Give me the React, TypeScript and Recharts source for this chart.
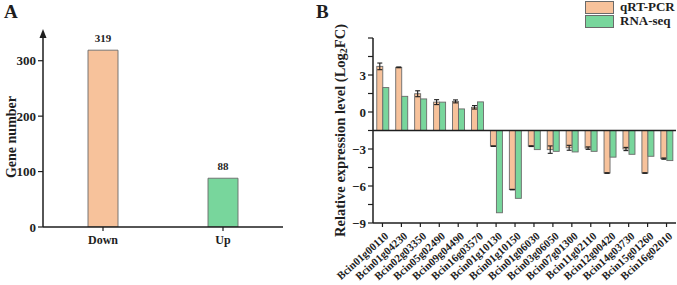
import React from "react";
import { BarChart, Bar, XAxis, YAxis, Cell, LabelList, ReferenceLine, Legend } from "recharts";

// Panel A: number of differentially expressed genes
const groupLabels = ["Down", "Up"];
const groupCounts = [319, 88];
const groupTicks = [0, 100, 200, 300];

// Panel B: qRT-PCR vs RNA-seq (log2 fold change)
const genes = [
  "Bcin01g00110", "Bcin01g04230", "Bcin02g03350", "Bcin05g02490",
  "Bcin09g04490", "Bcin16g03570", "Bcin01g10130", "Bcin01g10150",
  "Bcin01g06030", "Bcin03g06050", "Bcin07g01300", "Bcin11g02110",
  "Bcin12g00420", "Bcin14g03730", "Bcin15g01260", "Bcin16g02010",
];
const qrtValues = [3.7, 3.62, 1.48, 0.8, 0.86, 0.38, -2.77, -6.29, -2.77, -3.05, -2.9, -2.93, -4.95, -3.0, -4.95, -3.78];
const qrtErrors = [0.27, 0.03, 0.24, 0.2, 0.12, 0.14, 0.02, 0.02, 0.03, 0.3, 0.2, 0.1, 0.02, 0.13, 0.02, 0.05];
const rnaValues = [1.98, 1.27, 1.06, 0.8, 0.25, 0.82, -8.17, -7.0, -3.05, -3.19, -3.24, -3.19, -3.66, -3.43, -3.59, -3.94];
const expressionTicks = [-9, -7.5, -6, -4.5, -3, -1.5, 0, 1.5, 3, 4.5, 6];
const labelledTicks = [-9, -6, -3, 0, 3];
// the x axis crosses the y axis here, bars grow from it
const BASELINE = -1.5;

const FONT = '"Liberation Serif", "Times New Roman", serif';
const INK = "#1e1e1e";
const ORANGE = "#F7C29B";
const GREEN = "#78D69C";
const OUTLINE = "#6a6a6a";

const countRows = groupLabels.map((name, i) => ({ name, count: groupCounts[i] }));
const geneRows = genes.map((name, i) => ({
  name,
  qrt: [BASELINE, qrtValues[i]],
  rna: [BASELINE, rnaValues[i]],
  value: qrtValues[i],
  err: qrtErrors[i],
}));

const tickFont = { fontFamily: FONT, fontWeight: 700, fill: INK };

function GeneNumberLabel(props: any) {
  const { x, y, width, height } = props.viewBox;
  const axisX = x + width;
  const cy = y + height / 2 + 7;
  return (
    <g>
      <polygon points={`${axisX},${y - 4} ${axisX - 3.5},${y + 5} ${axisX + 3.5},${y + 5}`} fill={INK} />
      <text
        x={11}
        y={cy}
        transform={`rotate(-90, 11, ${cy})`}
        textAnchor="middle"
        dominantBaseline="central"
        style={{ ...tickFont, fontSize: 14 }}
      >
        Gene number
      </text>
    </g>
  );
}

function ExpressionLabel(props: any) {
  const { y, height } = props.viewBox;
  const cy = y + height / 2;
  const cx = 40;
  return (
    <text
      x={cx}
      y={cy}
      transform={`rotate(-90, ${cx}, ${cy})`}
      textAnchor="middle"
      dominantBaseline="central"
      style={{ ...tickFont, fontSize: 14.5 }}
    >
      Relative expression level (Log
      <tspan dy={3} fontSize={10}>2</tspan>
      <tspan dy={-3}>FC)</tspan>
    </text>
  );
}

function GeneTick(props: any) {
  const { x, y, payload } = props;
  return (
    <text
      x={x + 4}
      y={y + 5}
      transform={`rotate(-42, ${x + 4}, ${y + 5})`}
      textAnchor="end"
      dominantBaseline="central"
      style={{ ...tickFont, fontSize: 11 }}
    >
      {payload.value}
    </text>
  );
}

// bar rectangle plus its error bar at the value end (scaled from the bar's own pixel height)
function BarWithError(props: any) {
  const { x, y, width, height, fill, payload } = props;
  const top = height >= 0 ? y : y + height;
  const h = Math.abs(height);
  const rect = <rect x={x} y={top} width={width} height={h} fill={fill} stroke={OUTLINE} strokeWidth={0.9} />;
  if (!payload || payload.err == null) return rect;
  const v = payload.value;
  const ppu = h / Math.abs(v - BASELINE);
  const endY = v > BASELINE ? top : top + h;
  const e = payload.err * ppu;
  const cx = x + width / 2;
  return (
    <g>
      {rect}
      <line x1={cx} x2={cx} y1={endY - e} y2={endY + e} stroke={INK} strokeWidth={1.1} />
      <line x1={cx - 2.5} x2={cx + 2.5} y1={endY - e} y2={endY - e} stroke={INK} strokeWidth={1.1} />
      <line x1={cx - 2.5} x2={cx + 2.5} y1={endY + e} y2={endY + e} stroke={INK} strokeWidth={1.1} />
    </g>
  );
}

function PlainBar(props: any) {
  const { x, y, width, height, fill } = props;
  const top = height >= 0 ? y : y + height;
  return <rect x={x} y={top} width={width} height={Math.abs(height)} fill={fill} stroke={OUTLINE} strokeWidth={0.9} />;
}

function SeriesLegend() {
  const items = [
    { name: "qRT-PCR", color: ORANGE },
    { name: "RNA-seq", color: GREEN },
  ];
  return (
    <div>
      {items.map((it) => (
        <div key={it.name} style={{ display: "flex", alignItems: "center", height: 14, lineHeight: "14px" }}>
          <span
            style={{
              display: "inline-block",
              width: 27,
              height: 11,
              background: it.color,
              border: `1px solid ${OUTLINE}`,
              marginRight: 6,
            }}
          />
          <span style={{ fontFamily: FONT, fontWeight: 700, fontSize: 13, color: INK, whiteSpace: "nowrap" }}>{it.name}</span>
        </div>
      ))}
    </div>
  );
}

const panelLetter: React.CSSProperties = {
  position: "absolute",
  fontFamily: FONT,
  fontWeight: 700,
  fontSize: 19,
  color: INK,
  lineHeight: 1,
};

export default function App() {
  return (
    <div style={{ position: "absolute", left: 0, top: 0, width: 677, height: 285, background: "#fff", overflow: "hidden" }}>
      <div style={{ ...panelLetter, left: 4, top: 2 }}>A</div>
      <div style={{ ...panelLetter, left: 316, top: 2 }}>B</div>

      <div style={{ position: "absolute", left: 0, top: 0 }}>
        <BarChart width={300} height={285} data={countRows} margin={{ top: 33, right: 17, bottom: 28, left: 0 }}>
          <XAxis
            dataKey="name"
            height={30}
            tick={{ ...tickFont, fontSize: 12 }}
            tickSize={4}
            tickMargin={4}
            axisLine={{ stroke: INK, strokeWidth: 1.5 }}
            tickLine={{ stroke: INK, strokeWidth: 1.2 }}
          />
          <YAxis
            width={43}
            domain={[0, 350]}
            ticks={groupTicks}
            allowDataOverflow
            tick={{ ...tickFont, fontSize: 13 }}
            tickSize={5}
            tickMargin={2}
            axisLine={{ stroke: INK, strokeWidth: 1.5 }}
            tickLine={{ stroke: INK, strokeWidth: 1.2 }}
            label={<GeneNumberLabel />}
          />
          <Bar dataKey="count" barSize={30} stroke={OUTLINE} strokeWidth={0.9} isAnimationActive={false}>
            {countRows.map((r, i) => (
              <Cell key={r.name} fill={i === 0 ? ORANGE : GREEN} />
            ))}
            <LabelList dataKey="count" position="top" offset={8} style={{ ...tickFont, fontSize: 11 }} />
          </Bar>
        </BarChart>
      </div>

      <div style={{ position: "absolute", left: 300, top: 0 }}>
        <BarChart
          width={377}
          height={285}
          data={geneRows}
          margin={{ top: 10, right: 1, bottom: 0, left: 0 }}
          barCategoryGap="20%"
          barGap={0}
        >
          <XAxis
            dataKey="name"
            height={62}
            interval={0}
            tick={<GeneTick />}
            tickSize={4}
            axisLine={{ stroke: INK, strokeWidth: 1.5 }}
            tickLine={{ stroke: INK, strokeWidth: 1.2 }}
          />
          <YAxis
            width={73}
            domain={[-9, 6]}
            ticks={expressionTicks}
            interval={0}
            tickFormatter={(v: number) => (labelledTicks.includes(v) ? (v < 0 ? `\u2212${Math.abs(v)}` : `${v}`) : "")}
            tick={{ ...tickFont, fontSize: 13 }}
            tickSize={5}
            tickMargin={2}
            axisLine={{ stroke: INK, strokeWidth: 1.5 }}
            tickLine={{ stroke: INK, strokeWidth: 1.2 }}
            label={<ExpressionLabel />}
          />
          <ReferenceLine y={BASELINE} stroke={INK} strokeWidth={1.5} />
          <Legend
            verticalAlign="top"
            align="right"
            content={<SeriesLegend />}
            wrapperStyle={{ position: "absolute", top: 0, left: 285, width: 92 }}
          />
          <Bar dataKey="qrt" name="qRT-PCR" fill={ORANGE} shape={<BarWithError />} isAnimationActive={false} />
          <Bar dataKey="rna" name="RNA-seq" fill={GREEN} shape={<PlainBar />} isAnimationActive={false} />
        </BarChart>
      </div>
    </div>
  );
}
